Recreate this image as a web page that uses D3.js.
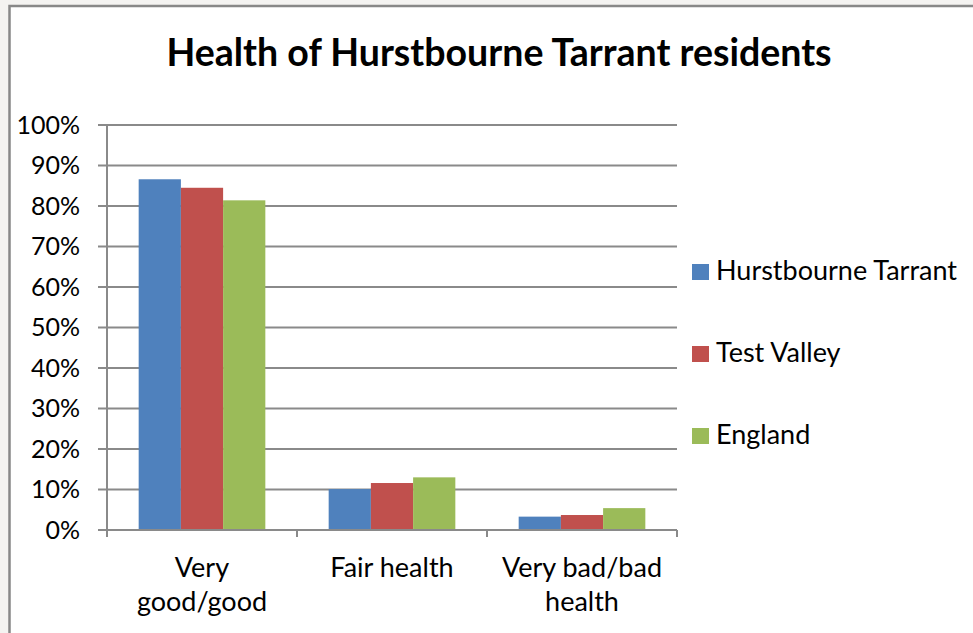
<!DOCTYPE html>
<html>
<head>
<meta charset="utf-8">
<script src="https://cdn.jsdelivr.net/npm/d3@7"></script>
<style>
  body { margin: 0; background: #f4f3f1; }
  svg { display: block; font-family: Lato, "Open Sans", sans-serif; }
</style>
</head>
<body>
<svg id="chart" width="973" height="633"></svg>
<script>
// data
let categories = ['Very good/good', 'Fair health', 'Very bad/bad health'];
let categoryLines = [['Very', 'good/good'], ['Fair health'], ['Very bad/bad', 'health']];
let seriesNames = ['Hurstbourne Tarrant', 'Test Valley', 'England'];
let hurstbourne = [86.6, 10.1, 3.3];
let testValley = [84.5, 11.6, 3.7];
let england = [81.4, 13.0, 5.4];
let yTicks = [0, 10, 20, 30, 40, 50, 60, 70, 80, 90, 100];
let colors = ['#4f81bd', '#c0504d', '#9bbb59'];

let seriesValues = [hurstbourne, testValley, england];

let svg = d3.select('#chart');

// chart frame
svg.append('rect')
  .attr('x', 9.5).attr('y', 6)
  .attr('width', 1000).attr('height', 700)
  .attr('fill', '#fff')
  .attr('stroke', '#888').attr('stroke-width', 2.5);

// title
svg.append('text')
  .attr('x', 499).attr('y', 66)
  .attr('text-anchor', 'middle')
  .attr('font-weight', 'bold')
  .attr('font-size', 37.5)
  .attr('fill', '#000')
  .text('Health of Hurstbourne Tarrant residents');

let plotLeft = 107, plotRight = 677, plotTop = 125, plotBottom = 530;

let x = d3.scaleBand().domain(categories).range([plotLeft, plotRight]);
let xInner = d3.scaleBand().domain(seriesNames).range([0, x.bandwidth()]).paddingOuter(0.75).paddingInner(0);
let y = d3.scaleLinear().domain([0, 100]).range([plotBottom, plotTop]);

// gridlines
svg.append('g').selectAll('line')
  .data(yTicks)
  .enter()
  .append('line')
  .attr('x1', plotLeft - 9).attr('x2', plotRight)
  .attr('y1', d => y(d)).attr('y2', d => y(d))
  .attr('stroke', '#8a8a8a').attr('stroke-width', 2);

// y tick labels
svg.append('g').selectAll('text')
  .data(yTicks)
  .enter()
  .append('text')
  .attr('x', 80)
  .attr('y', d => y(d))
  .attr('dy', '0.35em')
  .attr('text-anchor', 'end')
  .attr('font-size', 25)
  .attr('fill', '#000')
  .text(d => d + '%');

// bars
let groups = svg.append('g').selectAll('g')
  .data(seriesNames)
  .enter()
  .append('g')
  .attr('fill', (d, i) => colors[i]);

groups.selectAll('rect')
  .data((s, si) => categories.map((c, ci) => ({ cat: c, series: s, value: seriesValues[si][ci] })))
  .enter()
  .append('rect')
  .attr('x', d => x(d.cat) + xInner(d.series))
  .attr('y', d => y(d.value))
  .attr('width', xInner.bandwidth())
  .attr('height', d => plotBottom - y(d.value));

// axes lines
svg.append('line')
  .attr('x1', plotLeft).attr('x2', plotLeft)
  .attr('y1', plotTop).attr('y2', plotBottom + 7)
  .attr('stroke', '#8a8a8a').attr('stroke-width', 2);

svg.append('line')
  .attr('x1', plotLeft).attr('x2', plotRight)
  .attr('y1', plotBottom).attr('y2', plotBottom)
  .attr('stroke', '#8a8a8a').attr('stroke-width', 2);

let xTickPos = categories.map(c => x(c) + x.bandwidth()).concat([plotLeft]);
svg.append('g').selectAll('line')
  .data(xTickPos)
  .enter()
  .append('line')
  .attr('x1', d => d).attr('x2', d => d)
  .attr('y1', plotBottom).attr('y2', plotBottom + 7)
  .attr('stroke', '#8a8a8a').attr('stroke-width', 2);

// category labels
categories.forEach((c, i) => {
  let t = svg.append('text')
    .attr('x', x(c) + x.bandwidth() / 2)
    .attr('y', 577)
    .attr('text-anchor', 'middle')
    .attr('font-size', 27)
    .attr('fill', '#000');
  categoryLines[i].forEach((line, li) => {
    t.append('tspan')
      .attr('x', x(c) + x.bandwidth() / 2)
      .attr('dy', li === 0 ? 0 : 34)
      .text(line);
  });
});

// legend
let legend = svg.append('g').selectAll('g')
  .data(seriesNames)
  .enter()
  .append('g')
  .attr('transform', (d, i) => 'translate(692,' + (264 + i * 82) + ')');

legend.append('rect')
  .attr('width', 17).attr('height', 16)
  .attr('fill', (d, i) => colors[i]);

legend.append('text')
  .attr('x', 24).attr('y', 16)
  .attr('font-size', 27)
  .attr('fill', '#000')
  .text(d => d);
</script>
</body>
</html>
